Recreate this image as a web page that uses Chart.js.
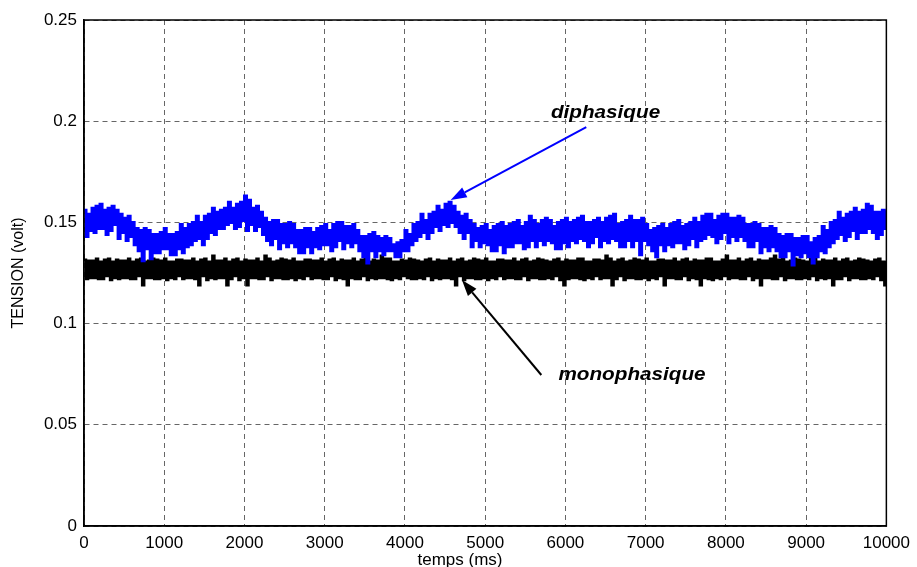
<!DOCTYPE html>
<html>
<head>
<meta charset="utf-8">
<script src="https://cdn.jsdelivr.net/npm/chart.js@4"></script>
<style>
  html, body { margin: 0; padding: 0; background: #fff; }
  #wrap { width: 917px; height: 567px; }
</style>
</head>
<body>
<div id="wrap"><canvas id="tensionChart" width="917" height="567"></canvas></div>
<script>
// pas d'échantillonnage des relevés (ms)
const pasMs = 25;

// relevé diphasique (V), un point tous les 25 ms de 0 à 10000 ms
const diphasique = [
  0.156, 0.143, 0.154, 0.146, 0.157, 0.145, 0.158, 0.147,
  0.159, 0.147, 0.156, 0.144, 0.157, 0.146, 0.158, 0.149,
  0.156, 0.142, 0.154, 0.145, 0.152, 0.141, 0.153, 0.143,
  0.150, 0.139, 0.147, 0.136, 0.146, 0.131, 0.147, 0.137,
  0.146, 0.132, 0.144, 0.135, 0.144, 0.135, 0.145, 0.137,
  0.147, 0.137, 0.144, 0.134, 0.144, 0.134, 0.145, 0.137,
  0.149, 0.135, 0.147, 0.138, 0.149, 0.139, 0.150, 0.141,
  0.153, 0.142, 0.150, 0.139, 0.153, 0.142, 0.154, 0.145,
  0.157, 0.144, 0.155, 0.147, 0.156, 0.147, 0.157, 0.149,
  0.160, 0.150, 0.157, 0.147, 0.159, 0.148, 0.160, 0.151,
  0.163, 0.146, 0.161, 0.149, 0.157, 0.146, 0.158, 0.148,
  0.155, 0.144, 0.152, 0.141, 0.150, 0.139, 0.151, 0.142,
  0.151, 0.137, 0.149, 0.140, 0.149, 0.138, 0.150, 0.140,
  0.149, 0.138, 0.146, 0.135, 0.146, 0.135, 0.147, 0.138,
  0.147, 0.135, 0.145, 0.138, 0.147, 0.137, 0.148, 0.139,
  0.149, 0.139, 0.146, 0.136, 0.149, 0.138, 0.150, 0.141,
  0.150, 0.137, 0.148, 0.140, 0.148, 0.138, 0.149, 0.140,
  0.146, 0.136, 0.143, 0.133, 0.143, 0.130, 0.144, 0.136,
  0.145, 0.133, 0.143, 0.136, 0.142, 0.134, 0.143, 0.136,
  0.142, 0.136, 0.139, 0.133, 0.140, 0.133, 0.141, 0.136,
  0.146, 0.136, 0.144, 0.139, 0.149, 0.141, 0.150, 0.143,
  0.154, 0.145, 0.151, 0.142, 0.154, 0.145, 0.155, 0.148,
  0.158, 0.146, 0.156, 0.149, 0.159, 0.148, 0.160, 0.150,
  0.158, 0.148, 0.155, 0.145, 0.153, 0.142, 0.154, 0.145,
  0.151, 0.138, 0.149, 0.141, 0.147, 0.138, 0.148, 0.140,
  0.149, 0.139, 0.146, 0.136, 0.148, 0.136, 0.149, 0.139,
  0.150, 0.135, 0.148, 0.138, 0.149, 0.138, 0.150, 0.140,
  0.151, 0.140, 0.148, 0.137, 0.150, 0.138, 0.153, 0.141,
  0.151, 0.138, 0.149, 0.141, 0.151, 0.139, 0.152, 0.141,
  0.151, 0.140, 0.148, 0.137, 0.150, 0.137, 0.151, 0.140,
  0.152, 0.138, 0.150, 0.141, 0.151, 0.140, 0.152, 0.142,
  0.153, 0.141, 0.150, 0.138, 0.150, 0.140, 0.151, 0.143,
  0.152, 0.138, 0.150, 0.141, 0.152, 0.140, 0.153, 0.142,
  0.154, 0.141, 0.149, 0.138, 0.150, 0.138, 0.151, 0.141,
  0.153, 0.138, 0.151, 0.141, 0.151, 0.134, 0.152, 0.141,
  0.149, 0.139, 0.146, 0.136, 0.147, 0.133, 0.148, 0.139,
  0.149, 0.136, 0.147, 0.139, 0.149, 0.138, 0.150, 0.140,
  0.151, 0.140, 0.148, 0.137, 0.149, 0.139, 0.150, 0.142,
  0.152, 0.138, 0.150, 0.141, 0.153, 0.142, 0.154, 0.144,
  0.154, 0.143, 0.151, 0.140, 0.153, 0.142, 0.154, 0.145,
  0.154, 0.140, 0.152, 0.143, 0.152, 0.141, 0.153, 0.143,
  0.152, 0.141, 0.149, 0.138, 0.149, 0.138, 0.150, 0.141,
  0.149, 0.135, 0.147, 0.138, 0.147, 0.136, 0.148, 0.138,
  0.147, 0.136, 0.144, 0.133, 0.143, 0.133, 0.144, 0.136,
  0.144, 0.129, 0.142, 0.134, 0.142, 0.133, 0.143, 0.135,
  0.143, 0.133, 0.140, 0.130, 0.142, 0.133, 0.143, 0.136,
  0.148, 0.135, 0.146, 0.138, 0.150, 0.140, 0.151, 0.142,
  0.155, 0.144, 0.152, 0.141, 0.154, 0.143, 0.155, 0.146,
  0.157, 0.142, 0.155, 0.145, 0.156, 0.145, 0.159, 0.147,
  0.158, 0.145, 0.155, 0.142, 0.155, 0.144, 0.156, 0.147,
  0.156
];

// relevé monophasique (V), même échantillonnage
const monophasique = [
  0.1315, 0.122, 0.131, 0.1225, 0.131, 0.1225, 0.132, 0.122,
  0.1305, 0.122, 0.1315, 0.1235, 0.132, 0.1215, 0.1305, 0.1225,
  0.1315, 0.122, 0.131, 0.1225, 0.131, 0.1225, 0.132, 0.122,
  0.1305, 0.122, 0.1315, 0.1235, 0.132, 0.119, 0.1305, 0.1225,
  0.131, 0.1225, 0.132, 0.122, 0.1315, 0.122, 0.131, 0.1225,
  0.132, 0.1215, 0.1305, 0.1225, 0.1305, 0.122, 0.1315, 0.1235,
  0.1315, 0.122, 0.131, 0.1225, 0.131, 0.1225, 0.132, 0.122,
  0.1305, 0.119, 0.1315, 0.1235, 0.132, 0.1215, 0.1305, 0.1225,
  0.1335, 0.122, 0.131, 0.1225, 0.131, 0.1225, 0.132, 0.119,
  0.1305, 0.122, 0.1315, 0.1235, 0.132, 0.1215, 0.1305, 0.1225,
  0.1315, 0.119, 0.131, 0.1225, 0.131, 0.1225, 0.132, 0.122,
  0.1305, 0.122, 0.1335, 0.1235, 0.132, 0.1215, 0.1305, 0.1225,
  0.131, 0.1225, 0.132, 0.122, 0.1315, 0.122, 0.131, 0.1225,
  0.132, 0.1215, 0.1305, 0.1225, 0.1305, 0.122, 0.1315, 0.1235,
  0.1315, 0.122, 0.131, 0.1225, 0.131, 0.1225, 0.132, 0.122,
  0.1305, 0.122, 0.1315, 0.1235, 0.132, 0.1215, 0.1305, 0.1225,
  0.1315, 0.122, 0.131, 0.119, 0.131, 0.1225, 0.132, 0.122,
  0.1305, 0.122, 0.1315, 0.1235, 0.132, 0.1215, 0.1305, 0.1225,
  0.1315, 0.122, 0.131, 0.1225, 0.1335, 0.1225, 0.132, 0.122,
  0.132, 0.1215, 0.1305, 0.1225, 0.1305, 0.122, 0.1315, 0.1235,
  0.131, 0.1225, 0.132, 0.122, 0.1315, 0.122, 0.131, 0.1225,
  0.1305, 0.122, 0.1315, 0.1235, 0.132, 0.1215, 0.1305, 0.1225,
  0.1315, 0.122, 0.131, 0.1225, 0.131, 0.1225, 0.132, 0.122,
  0.1305, 0.119, 0.1315, 0.1235, 0.132, 0.1215, 0.1305, 0.1225,
  0.131, 0.1225, 0.132, 0.122, 0.1315, 0.122, 0.131, 0.1225,
  0.132, 0.1215, 0.1305, 0.1225, 0.1305, 0.122, 0.1315, 0.1235,
  0.1315, 0.122, 0.131, 0.1225, 0.131, 0.1225, 0.132, 0.122,
  0.1305, 0.122, 0.1315, 0.1235, 0.132, 0.1215, 0.1305, 0.1225,
  0.131, 0.1225, 0.132, 0.122, 0.1315, 0.122, 0.131, 0.1225,
  0.1305, 0.122, 0.1315, 0.1235, 0.132, 0.1215, 0.1305, 0.119,
  0.1315, 0.122, 0.131, 0.1225, 0.131, 0.1225, 0.132, 0.122,
  0.132, 0.1215, 0.1305, 0.1225, 0.1305, 0.122, 0.1315, 0.1235,
  0.1315, 0.122, 0.131, 0.1225, 0.1335, 0.1225, 0.132, 0.119,
  0.1305, 0.122, 0.1315, 0.1235, 0.132, 0.1215, 0.1305, 0.1225,
  0.131, 0.1225, 0.132, 0.122, 0.1315, 0.122, 0.131, 0.1225,
  0.132, 0.1215, 0.1305, 0.1225, 0.1305, 0.122, 0.1315, 0.1235,
  0.1315, 0.119, 0.131, 0.1225, 0.131, 0.1225, 0.132, 0.122,
  0.1305, 0.122, 0.1315, 0.1235, 0.132, 0.1215, 0.1305, 0.1225,
  0.1315, 0.122, 0.131, 0.119, 0.131, 0.1225, 0.132, 0.122,
  0.132, 0.1215, 0.1305, 0.1225, 0.1305, 0.122, 0.1315, 0.1235,
  0.1335, 0.122, 0.131, 0.1225, 0.131, 0.1225, 0.132, 0.122,
  0.1305, 0.122, 0.1315, 0.1235, 0.132, 0.1215, 0.1305, 0.1225,
  0.1315, 0.119, 0.131, 0.1225, 0.131, 0.1225, 0.132, 0.122,
  0.1335, 0.122, 0.1315, 0.1235, 0.132, 0.1215, 0.1305, 0.1225,
  0.131, 0.1225, 0.132, 0.122, 0.1315, 0.122, 0.131, 0.1225,
  0.1305, 0.122, 0.1335, 0.1235, 0.132, 0.1215, 0.1305, 0.1225,
  0.1315, 0.122, 0.131, 0.1225, 0.131, 0.119, 0.132, 0.122,
  0.1305, 0.122, 0.1315, 0.1235, 0.132, 0.1215, 0.1305, 0.1225,
  0.131, 0.1225, 0.132, 0.122, 0.1315, 0.122, 0.131, 0.1225,
  0.1305, 0.122, 0.1315, 0.1235, 0.132, 0.1215, 0.1305, 0.119,
  0.131
];

// graduations des axes
const xTicks = [0, 1000, 2000, 3000, 4000, 5000, 6000, 7000, 8000, 9000, 10000];
const yTicks = [0, 0.05, 0.1, 0.15, 0.2, 0.25];

// flèches de repérage des deux courbes (coordonnées en ms / V)
const fleches = [
  { texte: 'diphasique', couleur: '#0000ff', depart: [6260, 0.1971], pointe: [4570, 0.1611], label: [6500, 0.2016] },
  { texte: 'monophasique', couleur: '#000000', depart: [5700, 0.0746], pointe: [4710, 0.1215], label: [6830, 0.0721] }
];

const police = 'Liberation Sans, Arial, Helvetica, sans-serif';

function versPoints(valeurs) {
  return valeurs.map((v, i) => ({ x: i * pasMs, y: v }));
}

function dessinerFleche(ctx, x0, y0, x1, y1, couleur) {
  const ang = Math.atan2(y1 - y0, x1 - x0);
  const long = 16, demi = 5.5;
  const bx = x1 - long * Math.cos(ang), by = y1 - long * Math.sin(ang);
  ctx.strokeStyle = couleur;
  ctx.fillStyle = couleur;
  ctx.lineWidth = 2;
  ctx.beginPath();
  ctx.moveTo(x0, y0);
  ctx.lineTo(bx, by);
  ctx.stroke();
  ctx.beginPath();
  ctx.moveTo(x1, y1);
  ctx.lineTo(bx + demi * Math.sin(ang), by - demi * Math.cos(ang));
  ctx.lineTo(bx - demi * Math.sin(ang), by + demi * Math.cos(ang));
  ctx.closePath();
  ctx.fill();
}

const habillage = {
  id: 'habillage',
  afterDraw(chart) {
    const { ctx, chartArea: a, scales: { x, y } } = chart;
    ctx.save();
    ctx.setLineDash([]);
    ctx.strokeStyle = '#000';
    ctx.lineWidth = 1.5;
    ctx.strokeRect(a.left, a.top, a.right - a.left, a.bottom - a.top);

    fleches.forEach(f => {
      dessinerFleche(ctx,
        x.getPixelForValue(f.depart[0]), y.getPixelForValue(f.depart[1]),
        x.getPixelForValue(f.pointe[0]), y.getPixelForValue(f.pointe[1]),
        f.couleur);
      ctx.save();
      ctx.translate(x.getPixelForValue(f.label[0]), y.getPixelForValue(f.label[1]));
      ctx.scale(1.15, 1);
      ctx.fillStyle = '#000';
      ctx.font = 'italic bold 18px ' + police;
      ctx.textAlign = 'center';
      ctx.textBaseline = 'alphabetic';
      ctx.fillText(f.texte, 0, 0);
      ctx.restore();
    });

    // titre de l'axe des temps
    ctx.fillStyle = '#000';
    ctx.font = '17px ' + police;
    ctx.textAlign = 'center';
    ctx.textBaseline = 'alphabetic';
    ctx.fillText('temps (ms)', 460, 565);
    ctx.restore();
  }
};

new Chart(document.getElementById('tensionChart'), {
  type: 'line',
  data: {
    datasets: [
      {
        label: 'diphasique',
        data: versPoints(diphasique),
        borderColor: '#0000ff',
        borderWidth: 3,
        stepped: true,
        pointRadius: 0,
        order: 0
      },
      {
        label: 'monophasique',
        data: versPoints(monophasique),
        borderColor: '#000000',
        borderWidth: 2.5,
        stepped: true,
        pointRadius: 0,
        order: 1
      }
    ]
  },
  options: {
    responsive: false,
    animation: false,
    events: [],
    layout: { padding: { left: 0, right: 28, top: 20, bottom: 0 } },
    plugins: { legend: { display: false }, tooltip: { enabled: false } },
    scales: {
      x: {
        type: 'linear',
        min: 0,
        max: 10000,
        afterBuildTicks: s => { s.ticks = xTicks.map(v => ({ value: v })); },
        afterFit: s => { s.height = 41; },
        grid: { color: '#666', lineWidth: 1, drawTicks: false },
        border: { display: true, color: '#000', width: 1.5, dash: [5, 4] },
        ticks: {
          color: '#000',
          padding: 7,
          maxRotation: 0,
          font: { family: police, size: 17 },
          callback: v => String(v)
        }
      },
      y: {
        type: 'linear',
        min: 0,
        max: 0.25,
        afterBuildTicks: s => { s.ticks = yTicks.map(v => ({ value: v })); },
        afterFit: s => { s.width = 84; },
        grid: { color: '#666', lineWidth: 1, drawTicks: false },
        border: { display: true, color: '#000', width: 1.5, dash: [5, 4] },
        ticks: {
          color: '#000',
          padding: 7,
          font: { family: police, size: 17 },
          callback: v => String(+v.toFixed(2))
        },
        title: {
          display: true,
          text: 'TENSION (volt)',
          color: '#000',
          font: { family: police, size: 16 },
          padding: { top: 9, bottom: 0 }
        }
      }
    }
  },
  plugins: [habillage]
});
</script>
</body>
</html>
